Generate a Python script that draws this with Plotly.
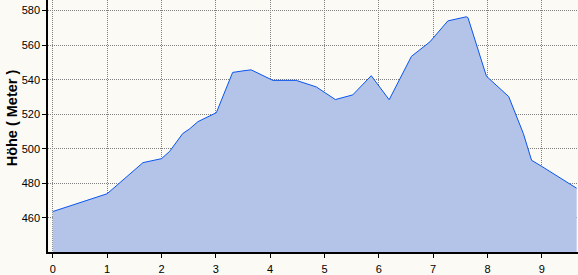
import plotly.graph_objects as go

distance_km = [0.0, 0.5, 1.0, 1.66, 2.0, 2.15, 2.39, 2.52, 2.67, 3.01, 3.31, 3.5, 3.65,
               4.05, 4.48, 4.85, 5.2, 5.52, 5.86, 6.19, 6.6, 6.94, 7.27, 7.61, 7.64,
               7.98, 8.39, 8.66, 8.81, 9.0, 9.64]
elevation_m = [463.7, 469.0, 474.0, 492.0, 494.3, 498.5, 508.8, 511.6, 515.7, 520.9, 544.2,
               545.1, 545.7, 539.6, 539.6, 535.8, 528.5, 531.2, 542.3, 528.4, 553.5, 561.9,
               574.0, 576.4, 575.9, 542.0, 530.2, 508.8, 493.4, 489.8, 477.2]

x_ticks = [0, 1, 2, 3, 4, 5, 6, 7, 8, 9]
y_ticks = [460, 480, 500, 520, 540, 560, 580]
y_title = "Höhe ( Meter )"

fig = go.Figure()
fig.add_trace(go.Scatter(
    x=distance_km, y=elevation_m, mode="lines",
    line=dict(color="#0a55ee", width=1),
    fill="tozeroy", fillcolor="#b4c3e8",
    hoverinfo="skip", showlegend=False,
))

axis_common = dict(
    showgrid=True, gridcolor="#808080", gridwidth=1, griddash="1px,1px",
    showline=True, linecolor="black", linewidth=1.5,
    ticks="outside", ticklen=4, tickcolor="black", tickwidth=1,
    tickfont=dict(family="Liberation Sans, Arial, sans-serif", size=11, color="black"),
    zeroline=False, layer="below traces",
)

fig.update_xaxes(range=[-0.088, 9.665], tickvals=x_ticks, ticklabelstandoff=2, **axis_common)
fig.update_yaxes(range=[440.3, 586.1], tickvals=y_ticks, **axis_common)

fig.add_annotation(
    text="<b>" + y_title + "</b>", xref="paper", yref="paper",
    x=0, y=0.33, xshift=-36, xanchor="center", yanchor="bottom",
    textangle=-90, showarrow=False,
    font=dict(family="Liberation Sans, Arial, sans-serif", size=14.5, color="black"),
)

fig.update_layout(
    width=578, height=275,
    margin=dict(l=48, r=0, t=0, b=14),
    paper_bgcolor="#fbfaf5", plot_bgcolor="#fbfaf5",
)

fig.write_html("out.html")
